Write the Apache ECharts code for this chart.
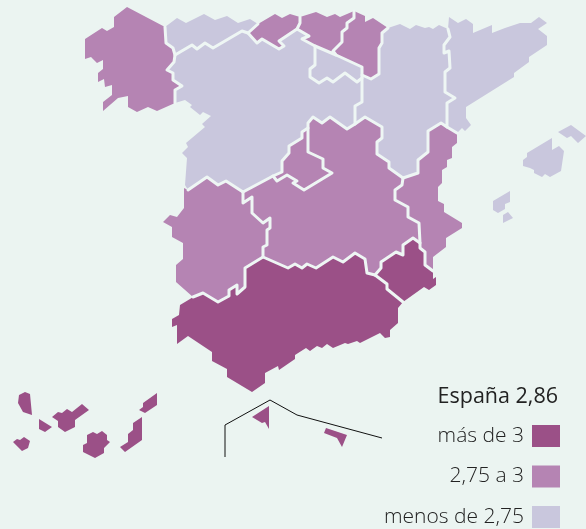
<!DOCTYPE html>
<html><head><meta charset="utf-8">
<style>html,body{margin:0;padding:0;background:#ebf4f1}#c{width:586px;height:529px}</style>
<script src="https://cdn.jsdelivr.net/npm/echarts@6/dist/echarts.min.js"></script>
</head><body><div id="c"></div>
<script>
const galicia=[[127,7],[165,27],[166,43],[173,48],[175,55],[174,62],[167,70],[173,73],[173,80],[182,86],[175,90],[175,103],[157,111],[148,107],[137,112],[128,107],[128,96],[118,98],[103,111],[103,102],[112,95],[112,85],[105,87],[104,79],[98,82],[98,73],[103,69],[103,60],[97,63],[91,57],[85,59],[85,39],[102,28],[107,31],[114,27],[114,17]];
const asturias=[[165,27],[177,18],[186,23],[204,14],[215,20],[227,16],[238,23],[250,19],[258,24],[248,33],[242,31],[213,48],[205,43],[197,49],[192,45],[175,55],[173,48],[166,43]];
const cantabria=[[258,24],[275,14],[282,18],[290,14],[300,17],[300,23],[297,29],[279,41],[284,46],[279,49],[262,39],[257,43],[248,33]];
const paisVasco=[[300,17],[316,12],[327,17],[335,14],[340,17],[354,11],[354,18],[347,23],[347,28],[342,32],[342,42],[333,51],[336,55],[315,46],[302,39],[309,36],[297,29],[300,23]];
const navarra=[[354,11],[365,16],[365,22],[373,18],[388,28],[382,33],[382,43],[379,48],[379,74],[371,79],[362,75],[362,67],[336,55],[333,51],[342,42],[342,32],[347,28],[347,23],[354,18]];
const rioja=[[315,46],[336,55],[362,67],[362,75],[362,78],[357,82],[345,73],[333,82],[327,78],[319,83],[310,77],[310,69],[315,65]];
const castillaLeon=[[175,55],[192,45],[197,49],[205,43],[213,48],[242,31],[248,33],[257,43],[262,39],[279,49],[284,46],[279,41],[297,29],[309,36],[302,39],[315,46],[315,65],[310,69],[310,77],[319,83],[327,78],[333,82],[345,73],[357,82],[362,78],[362,102],[355,106],[355,124],[347,129],[330,117],[322,123],[313,117],[308,123],[308,128],[302,132],[302,138],[289,146],[289,153],[282,161],[282,172],[273,176],[243,192],[226,181],[218,185],[207,177],[188,190],[185,185],[187,158],[182,153],[188,147],[186,143],[205,127],[202,124],[211,116],[203,112],[200,115],[190,107],[192,105],[185,100],[175,103],[175,90],[182,86],[173,80],[173,73],[167,70],[174,62]];
const aragon=[[388,28],[400,24],[410,29],[416,25],[425,28],[429,27],[433,29],[439,25],[448,29],[450,37],[444,45],[444,53],[449,51],[450,68],[445,72],[445,92],[455,98],[447,103],[447,127],[441,123],[428,131],[428,152],[418,160],[418,173],[403,178],[389,168],[389,162],[377,154],[377,142],[382,138],[382,127],[365,117],[355,124],[355,106],[362,102],[362,78],[362,75],[371,79],[379,74],[379,48],[382,43],[382,33]];
const cataluna=[[449,17],[458,23],[466,19],[473,24],[473,33],[492,25],[492,33],[505,28],[520,23],[531,23],[539,17],[547,23],[538,29],[547,36],[547,45],[529,57],[529,62],[514,73],[514,77],[466,107],[466,118],[471,125],[465,131],[462,128],[457,133],[447,127],[447,103],[455,98],[445,92],[445,72],[450,68],[449,51],[444,53],[444,45],[450,37],[448,29]];
const valencia=[[441,123],[447,127],[457,133],[457,143],[452,147],[452,158],[447,160],[447,167],[442,170],[442,183],[438,187],[438,201],[444,204],[444,212],[462,223],[462,228],[446,238],[446,247],[433,257],[433,271],[425,265],[425,252],[420,248],[420,243],[419,223],[408,217],[408,207],[395,200],[395,190],[402,185],[403,178],[418,173],[418,160],[428,152],[428,131]];
const murcia=[[375,275],[381,268],[381,262],[396,252],[403,255],[403,245],[413,238],[420,243],[420,248],[425,252],[425,265],[433,271],[433,279],[436,277],[436,285],[429,290],[424,287],[403,302],[387,289],[387,284]];
const madrid=[[308,128],[308,152],[323,159],[323,168],[332,173],[304,190],[293,183],[297,181],[287,175],[277,181],[273,176],[282,172],[282,161],[289,153],[289,146],[302,138],[302,132]];
const castillaMancha=[[243,192],[273,176],[277,181],[287,175],[297,181],[293,183],[304,190],[332,173],[323,168],[323,159],[308,152],[308,128],[308,123],[313,117],[322,123],[330,117],[347,129],[355,124],[365,117],[382,127],[382,138],[377,142],[377,154],[389,162],[389,168],[403,178],[402,185],[395,190],[395,200],[408,207],[408,217],[419,223],[420,243],[413,238],[403,245],[403,255],[396,252],[381,262],[381,268],[375,275],[367,273],[365,259],[355,253],[343,262],[333,257],[316,268],[307,264],[302,268],[295,264],[288,268],[263,257],[263,247],[267,245],[267,230],[270,228],[270,218],[263,223],[252,213],[252,197],[243,203]];
const extremadura=[[184,188],[188,190],[207,177],[218,185],[226,181],[243,192],[243,203],[252,197],[252,213],[263,223],[270,218],[270,228],[267,230],[267,245],[263,247],[263,257],[245,268],[245,287],[237,294],[237,285],[229,290],[229,296],[218,302],[203,293],[193,297],[176,282],[176,265],[183,259],[183,243],[172,237],[172,227],[163,222],[170,215],[177,217],[184,208]];
const andalucia=[[263,257],[288,268],[295,264],[302,268],[307,264],[316,268],[333,257],[343,262],[355,253],[365,259],[367,273],[375,275],[387,284],[387,289],[403,302],[398,308],[398,323],[390,330],[390,337],[385,338],[380,333],[360,343],[357,341],[348,344],[345,343],[333,348],[327,344],[322,348],[317,346],[310,351],[306,348],[295,355],[295,359],[279,370],[278,366],[265,373],[265,383],[252,392],[227,377],[227,369],[212,361],[212,352],[188,336],[177,344],[177,325],[172,327],[172,319],[179,315],[180,305],[190,299],[193,297],[203,293],[218,302],[229,296],[229,290],[237,285],[237,294],[245,287],[245,268]];
const mallorca=[[552,138],[552,150],[559,146],[564,151],[561,171],[550,177],[545,174],[542,177],[534,173],[534,170],[530,168],[523,166],[523,160],[527,157],[527,153]];
const menorca=[[558,132],[571,125],[586,136],[578,143],[571,136],[567,138]];
const ibiza=[[510,191],[510,202],[505,204],[505,209],[498,213],[493,210],[493,201]];
const formentera=[[508,212],[513,218],[503,223],[503,215]];
const laPalma=[[25,392],[30,394],[32,415],[23,412],[18,403],[19,395]];
const hierro=[[13,442],[17,439],[20,440],[24,437],[30,441],[28,448],[22,451]];
const gomera=[[39,419],[52,427],[45,432],[39,429]];
const tenerife=[[52,417],[58,412],[62,413],[67,409],[72,412],[82,404],[89,410],[75,420],[75,427],[65,432],[58,427],[58,421]];
const granCanaria=[[87,435],[93,432],[97,434],[102,431],[107,435],[107,440],[110,442],[104,448],[104,453],[95,458],[83,452],[83,445],[87,443]];
const fuerteventura=[[142,417],[142,440],[125,452],[120,447],[128,442],[128,434],[133,430],[133,423]];
const lanzarote=[[157,393],[157,405],[145,413],[139,410],[143,407],[143,403]];
const ceuta=[[252,417],[269,406],[269,429],[265,422],[262,423]];
const melilla=[[326,428],[347,435],[342,447],[337,438],[324,433]];
const frameLine=[[225,457],[225,425],[270,400],[297,415],[382,438]];

const regionNames=['Galicia','Asturias','Cantabria','País Vasco','Navarra','La Rioja','Castilla y León','Aragón','Cataluña','Com. Valenciana','Murcia','Madrid','Castilla-La Mancha','Extremadura','Andalucía','Baleares','Canarias','Ceuta','Melilla'];
const regionShapes=[[galicia],[asturias],[cantabria],[paisVasco],[navarra],[rioja],[castillaLeon],[aragon],[cataluna],[valencia],[murcia],[madrid],[castillaMancha],[extremadura],[andalucia],[mallorca,menorca,ibiza,formentera],[laPalma,hierro,gomera,tenerife,granCanaria,fuerteventura,lanzarote],[ceuta],[melilla]];
const regionValues=[2.9,2.7,2.85,2.85,2.85,2.7,2.65,2.65,2.65,2.9,3.1,2.85,2.95,2.95,3.15,2.7,3.1,3.2,3.2];
const legendLabels=['menos de 2,75','2,75 a 3','más de 3'];
const legendColors=['#c9c7dd','#b584b3','#9b5087'];
const national='España 2,86';

const up=q=>[q[0],-q[1]];
const closeRing=r=>{const p=r.map(up);p.push(p[0]);return p;};
const geojson={type:'FeatureCollection',features:regionNames.map((n,i)=>({type:'Feature',properties:{name:n},geometry:{type:'MultiPolygon',coordinates:regionShapes[i].map(r=>[closeRing(r)])}}))};
echarts.registerMap('es',geojson);

// inner borders: the edges two regions have in common, chained into polylines
const edgeKey=(a,b)=>{const s=a.join(),t=b.join();return s<t?s+'|'+t:t+'|'+s;};
const edgeCount={};
regionShapes.forEach(rs=>rs.forEach(r=>r.forEach((p,i)=>{const k=edgeKey(p,r[(i+1)%r.length]);edgeCount[k]=(edgeCount[k]||0)+1;})));
const innerBorders=[];const usedEdges={};
regionShapes.forEach(rs=>rs.forEach(r=>{
  const n=r.length;
  let start=0;for(let i=0;i<n;i++){if(edgeCount[edgeKey(r[i],r[(i+1)%n])]<2){start=i;break;}}
  let chain=null;
  for(let j=0;j<n;j++){
    const a=r[(start+j)%n],b=r[(start+j+1)%n],k=edgeKey(a,b);
    if(edgeCount[k]>=2&&!usedEdges[k]){usedEdges[k]=1;if(!chain){chain=[up(a)];innerBorders.push({coords:chain});}chain.push(up(b));}
    else chain=null;
  }
}));

const chart=echarts.init(document.getElementById('c'),null,{renderer:'canvas'});
const font='"Open Sans"';
chart.setOption({
  animation:false,
  backgroundColor:'#ebf4f1',
  title:{text:national,right:23,top:381,textStyle:{fontFamily:font,fontSize:21.5,fontWeight:500,color:'#222'}},
  visualMap:{type:'piecewise',right:26,top:425,padding:0,itemWidth:28,itemHeight:22,itemGap:18.5,textGap:8,align:'right',itemSymbol:'rect',hoverLink:false,selectedMode:false,seriesIndex:0,
    textStyle:{fontFamily:font,fontSize:21,fontWeight:300,color:'#222'},
    pieces:[{lt:2.75,label:legendLabels[0],color:legendColors[0]},{gte:2.75,lte:3,label:legendLabels[1],color:legendColors[1]},{gt:3,label:legendLabels[2],color:legendColors[2]}]},
  geo:{map:'es',roam:false,silent:true,aspectScale:1,layoutCenter:[293,264.5],layoutSize:586,boundingCoords:[[0,0],[586,-529]],
    itemStyle:{borderWidth:0},emphasis:{disabled:true},label:{show:false}},
  series:[
    {type:'map',geoIndex:0,silent:true,data:regionNames.map((n,i)=>({name:n,value:regionValues[i]}))},
    {type:'lines',coordinateSystem:'geo',polyline:true,silent:true,lineStyle:{color:'#eef6f4',width:3,opacity:1,cap:'round',join:'round'},data:innerBorders},
    {type:'lines',coordinateSystem:'geo',polyline:true,silent:true,lineStyle:{color:'#111',width:1,opacity:1},data:[{coords:frameLine.map(up)}]}
  ]
});
</script></body></html>
